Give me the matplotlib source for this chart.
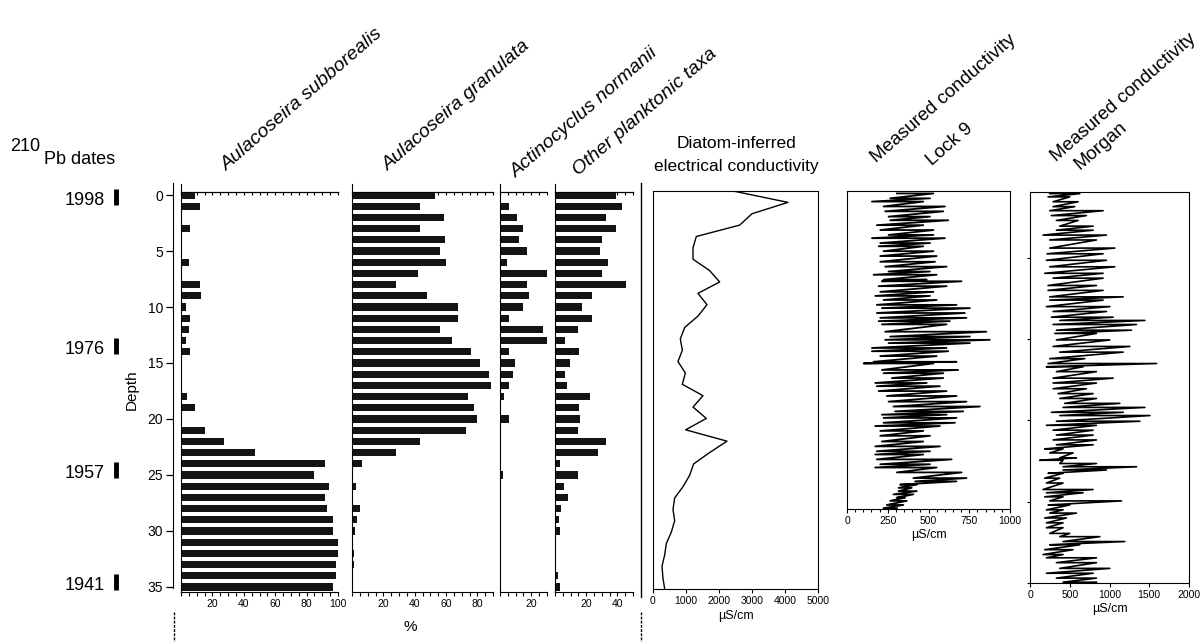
import numpy as np
import matplotlib.pyplot as plt
from matplotlib.ticker import MultipleLocator, FixedLocator
from matplotlib.lines import Line2D

plt.rcParams['font.family'] = ['Liberation Sans', 'DejaVu Sans']

# ---- data ----
depth = np.arange(36)
subborealis = [9, 12, 0, 6, 0, 0, 5, 0, 12, 12.7, 3.4, 6, 5, 3, 6, 0, 0, 0, 4, 9,
               0, 15, 27.6, 47, 92, 85, 94, 92, 93, 97, 97, 100, 100, 99, 99, 97]
granulata = [53, 43.4, 58.5, 43.6, 59.6, 56, 60, 42, 28, 48, 67.4, 67.4, 56, 64, 76, 82,
             87.7, 88.7, 74, 77.7, 79.8, 72.6, 43.4, 27.9, 6.4, 0, 2.3, 0, 5, 3, 1.7, 0,
             1, 1, 0, 0]
normanii = [0, 5.5, 11, 15, 12, 17, 4.3, 30, 17.5, 18.3, 15, 5.5, 27.7, 30, 5.5, 9.8,
            8.3, 5.5, 2.8, 0, 5.5, 0, 0, 0, 0, 2, 0, 0, 0, 0, 0, 0, 0, 0, 0, 0]
other_taxa = [39, 43, 32.5, 39, 30, 28.6, 34, 30, 45.6, 24, 17.4, 23.7, 14.6, 6.5, 15.3,
              9.7, 6.5, 7.5, 22.6, 15.7, 16.3, 14.6, 32.5, 27.5, 3, 14.6, 5.8, 8.6, 4,
              2.6, 3.4, 0, 0, 0.4, 2, 3.4]
diatom_ec = [2424, 4090, 3000, 2626, 1313, 1212, 1212, 1717, 2020, 1363, 1636, 1363, 960,
             828, 889, 757, 980, 889, 1515, 1212, 1616, 990, 2242, 1717, 1232, 1111, 909,
             656, 606, 656, 555, 404, 354, 273, 300, 354]

date_labels = ['1998', '1976', '1957', '1941']
date_depth = [0.22, 13.5, 24.55, 34.55]

lock9_year = [1997.7, 1997.1, 1996.7, 1996.1, 1995.5, 1994.85, 1994.4, 1993.8, 1993.2, 1992.6,
              1992.2, 1991.6, 1991.2, 1990.6, 1990.0, 1989.3, 1988.7, 1988.1, 1987.7, 1987.1,
              1986.9, 1986.3, 1985.6, 1985.1, 1984.6, 1984.0, 1983.6, 1983.0, 1982.4, 1982.0,
              1981.6, 1980.7, 1980.1, 1979.7, 1979.3, 1978.7, 1978.3, 1977.7, 1977.0, 1976.8,
              1976.0, 1975.6, 1975.0, 1974.4, 1974.0, 1973.4, 1972.8, 1972.1, 1971.5, 1970.9,
              1970.5, 1970.1, 1969.5, 1969.1, 1968.5, 1967.9, 1967.2, 1966.6, 1966.0, 1965.6,
              1965.0, 1964.4, 1964.0, 1963.4, 1962.7, 1962.3, 1961.9, 1961.5, 1961.1, 1960.7,
              1960.3, 1959.9, 1959.4, 1959.0]
lock9_low = [306, 265, 153, 224, 234, 255, 265, 183, 204, 255,
             153, 204, 194, 224, 204, 204, 234, 255, 163, 224,
             214, 194, 204, 173, 224, 183, 214, 183, 204, 194,
             214, 234, 265, 234, 255, 153, 153, 204, 163, 102,
             214, 224, 275, 173, 183, 194, 244, 255, 285, 295,
             214, 224, 224, 173, 204, 204, 214, 173, 183, 173,
             183, 204, 173, 306, 407, 418, 326, 316, 316, 285,
             306, 265, 244, 224]
lock9_high = [530, 509, 468, 601, 591, 509, 621, 468, 530, 530,
              601, 509, 468, 530, 550, 540, 611, 509, 550, 489,
              703, 611, 530, 509, 550, 672, 754, 723, 733, 631,
              611, 855, 754, 876, 754, 611, 621, 550, 672, 530,
              682, 591, 591, 489, 570, 611, 672, 733, 815, 713,
              611, 672, 662, 570, 468, 509, 468, 570, 509, 468,
              642, 509, 550, 703, 733, 672, 428, 397, 428, 407,
              356, 367, 346, 306]

morgan_year = [1997.9, 1997.5, 1996.9, 1996.3, 1995.8, 1995.2, 1994.6, 1993.9, 1993.4, 1992.8,
               1992.2, 1991.2, 1990.5, 1989.7, 1988.9, 1988.1, 1987.5, 1986.6, 1986.0, 1985.2,
               1984.8, 1984.0, 1983.4, 1982.7, 1982.3, 1981.8, 1981.1, 1980.7, 1979.9, 1979.1,
               1978.4, 1977.6, 1977.0, 1976.6, 1976.0, 1975.2, 1974.6, 1973.9, 1973.3, 1972.7,
               1972.1, 1971.6, 1971.0, 1970.6, 1969.9, 1969.4, 1968.8, 1968.2, 1967.6, 1967.0,
               1966.5, 1966.0, 1965.4, 1965.1, 1964.7, 1964.3, 1963.9, 1963.5, 1962.9, 1962.3,
               1961.5, 1961.1, 1960.6, 1960.1, 1959.6, 1959.0, 1958.6, 1958.0, 1957.4, 1956.8,
               1956.1, 1955.7, 1955.1, 1954.7, 1954.1, 1953.5, 1953.1, 1952.5, 1951.8, 1951.2,
               1950.6, 1950.1]
morgan_low = [248, 227, 290, 290, 248, 269, 332, 374, 332, 164,
              248, 248, 214, 206, 248, 185, 290, 227, 227, 248,
              248, 206, 290, 269, 374, 290, 332, 311, 332, 290,
              374, 248, 227, 206, 332, 290, 290, 290, 353, 374,
              437, 416, 269, 374, 332, 206, 290, 332, 290, 332,
              185, 248, 374, 122, 374, 416, 416, 227, 185, 206,
              164, 206, 185, 248, 227, 206, 248, 185, 206, 206,
              248, 374, 416, 248, 185, 164, 206, 332, 374, 206,
              332, 416]
morgan_high = [626, 500, 605, 563, 920, 710, 605, 794, 794, 962,
               836, 1067, 920, 962, 1067, 920, 920, 836, 920, 1172,
               920, 1004, 962, 1046, 1445, 1340, 1277, 836, 1004, 1256,
               1172, 689, 1592, 668, 836, 1046, 836, 710, 794, 836,
               1130, 1445, 1172, 1508, 1382, 836, 794, 794, 836, 794,
               416, 542, 584, 416, 836, 1340, 962, 416, 374, 416,
               794, 668, 416, 1151, 500, 416, 584, 458, 416, 416,
               500, 878, 1193, 626, 542, 416, 836, 836, 1004, 794,
               836, 836]

# ---- layout (pixel boxes) ----
W, H = 1201, 642
fig = plt.figure(figsize=(W / 100, H / 100), dpi=100)


def box(x0, x1, y0, y1):
    return fig.add_axes([x0 / W, 1 - y1 / H, (x1 - x0) / W, (y1 - y0) / H])


ylim_bars = (35.45, -0.27)
tick_fs = 7.5
rot = 41

panels = [
    (181, 338, subborealis, 100, 'Aulacoseira subborealis', (227, 171)),
    (352, 493, granulata, 90, 'Aulacoseira granulata', (388, 171)),
    (500, 547, normanii, 30, 'Actinocyclus normanii', (516, 178)),
    (555, 633, other_taxa, 50, 'Other planktonic taxa', (578, 176)),
]
for x0, x1, vals, xmax, name, (tx, ty) in panels:
    ax = box(x0, x1, 192, 592)
    ax.barh(depth, vals, height=0.64, color='#141414')
    ax.set_xlim(0, xmax)
    ax.set_ylim(*ylim_bars)
    ax.set_yticks([])
    ax.spines['right'].set_visible(False)
    ax.spines['left'].set_bounds(35.45, -1.0)
    ax.xaxis.set_major_locator(FixedLocator(list(range(20, xmax + 1, 20))))
    ax.xaxis.set_minor_locator(MultipleLocator(5))
    ax.tick_params(axis='x', which='both', direction='out', length=3, width=0.8,
                   labelsize=tick_fs, pad=2)
    top = ax.secondary_xaxis('top')
    top.xaxis.set_major_locator(MultipleLocator(5))
    top.tick_params(direction='in', length=2.5, width=0.8, labeltop=False)
    fig.text(tx / W, 1 - ty / H, name, rotation=rot, rotation_mode='anchor',
             ha='left', va='baseline', fontsize=14, style='italic')

# depth axis
axd = box(173, 181, 192, 592)
axd.set_ylim(*ylim_bars)
axd.set_xticks([])
for s in ['top', 'right', 'bottom']:
    axd.spines[s].set_visible(False)
axd.spines['left'].set_bounds(35.1, -1.05)
axd.set_yticks(range(0, 36, 5))
axd.tick_params(axis='y', length=5, width=0.9, labelsize=10, pad=2)
axd.patch.set_visible(False)
fig.text(132 / W, 1 - 390 / H, 'Depth', rotation=90, ha='center', va='center', fontsize=11)

# 210Pb dates
axt = box(0, 125, 192, 592)
axt.set_xlim(0, 125)
axt.set_ylim(*ylim_bars)
axt.axis('off')
axt.plot([116] * len(date_depth), date_depth, ls='none', marker='|', ms=11, mew=3.5,
         color='k', clip_on=False)
for lab, d in zip(date_labels, date_depth):
    axt.text(105, d + 0.3, lab, ha='right', va='center', fontsize=13)
fig.text(10 / W, 1 - 151 / H, '210', ha='left', va='baseline', fontsize=13)
fig.text(44 / W, 1 - 164 / H, 'Pb dates', ha='left', va='baseline', fontsize=13)

fig.text(410 / W, 1 - 627 / H, '%', ha='center', va='center', fontsize=11)

# separators
fig.add_artist(Line2D([641 / W] * 2, [1 - 183 / H, 1 - 597 / H], color='k', lw=1))
for xs in (174, 641):
    fig.add_artist(Line2D([xs / W] * 2, [1 - 612 / H, 1 - 642 / H], color='k', lw=1,
                          ls=(0, (2, 1))))

# diatom-inferred EC
ax5 = box(653, 818, 191, 589)
ax5.plot(diatom_ec, depth, color='k', lw=1)
ax5.set_xlim(0, 5000)
ax5.set_ylim(35, 0)
ax5.set_yticks([])
ax5.set_xticks(range(0, 5001, 1000))
ax5.tick_params(axis='x', length=3, width=0.8, labelsize=tick_fs, pad=2)
ax5.set_xlabel('µS/cm', fontsize=9, labelpad=3)
fig.text(736 / W, 1 - 143 / H, 'Diatom-inferred', ha='center', va='center', fontsize=12.5)
fig.text(736 / W, 1 - 167 / H, 'electrical conductivity', ha='center', va='center',
         fontsize=12.5)

# measured conductivity, Lock 9
ax6 = box(847, 1010, 191, 509)
ax6.plot(np.column_stack([lock9_low, lock9_high]).ravel(), np.repeat(lock9_year, 2),
         color='k', lw=1.3)
ax6.set_xlim(0, 1000)
ax6.set_ylim(1958.9, 1998.0)
ax6.set_yticks([])
ax6.set_xticks(range(0, 1001, 250))
ax6.xaxis.set_minor_locator(MultipleLocator(50))
ax6.tick_params(axis='x', which='both', length=3, width=0.8, labelsize=tick_fs, pad=2)
ax6.tick_params(axis='x', which='minor', length=2)
ax6.set_xlabel('µS/cm', fontsize=9, labelpad=2)
fig.text(876 / W, 1 - 163 / H, 'Measured conductivity', rotation=rot, rotation_mode='anchor',
         ha='left', va='baseline', fontsize=13.5)
fig.text(932 / W, 1 - 166 / H, 'Lock 9', rotation=rot, rotation_mode='anchor',
         ha='left', va='baseline', fontsize=13.5)

# measured conductivity, Morgan
ax7 = box(1030, 1189, 192, 583)
ax7.plot(np.column_stack([morgan_low, morgan_high]).ravel(), np.repeat(morgan_year, 2),
         color='k', lw=1.2)
ax7.set_xlim(0, 2000)
ax7.set_ylim(1950, 1998.1)
ax7.set_yticks(range(1950, 1991, 10))
ax7.set_yticklabels([])
ax7.tick_params(axis='y', length=2.5, width=0.8)
ax7.set_xticks(range(0, 2001, 500))
ax7.tick_params(axis='x', length=3, width=0.8, labelsize=tick_fs, pad=2)
ax7.set_xlabel('µS/cm', fontsize=9, labelpad=2)
fig.text(1056 / W, 1 - 162 / H, 'Measured conductivity', rotation=rot, rotation_mode='anchor',
         ha='left', va='baseline', fontsize=13.5)
fig.text(1080 / W, 1 - 170 / H, 'Morgan', rotation=rot, rotation_mode='anchor',
         ha='left', va='baseline', fontsize=13.5)

fig.savefig('out.png', dpi=100)
